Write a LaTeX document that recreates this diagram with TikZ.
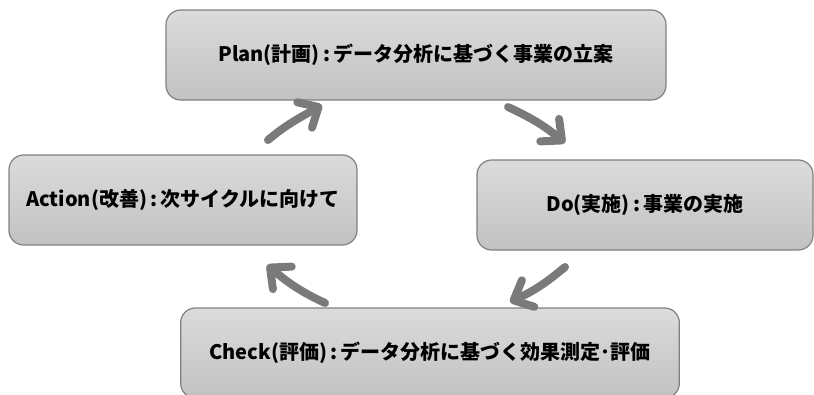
\documentclass[tikz,border=0pt]{standalone}
\usepackage{fontspec}
\setmainfont{Noto Sans CJK JP}
\usetikzlibrary{arrows.meta}

\begin{document}
\begin{tikzpicture}[
    x=0.75pt, y=0.75pt,
    block/.style={rectangle, rounded corners=11pt, draw=black!50, line width=0.9pt,
        top color=black!14, bottom color=black!24, minimum height=67.5pt,
        align=center, font=\fontsize{15pt}{18pt}\selectfont\bfseries},
    cycle/.style={draw=black!52, line width=6pt, line cap=round,
        -{Straight Barb[length=12pt, width=22pt, round]}}
]
\useasboundingbox (0,0) rectangle (814,394);
% Nodes
\node [block, minimum width=375pt] (plan) at (416,339) {Plan(計画)\,:\,データ分析に基づく事業の立案};
\node [block, minimum width=261pt] (action) at (183,194) {Action(改善)\,:\,次サイクルに向けて};
\node [block, minimum width=252pt] (do) at (645,189) {Do(実施)\,:\,事業の実施};
\node [block, minimum width=374pt] (check) at (430,41) {Check(評価)\,:\,データ分析に基づく効果測定･評価};

% Arrow ends
\coordinate (act-out) at (268,254);
\coordinate (plan-in) at (322,289);
\coordinate (plan-out) at (508,287);
\coordinate (do-in) at (565,251);
\coordinate (do-out) at (565,127);
\coordinate (check-in) at (510,92);
\coordinate (check-out) at (325,91);
\coordinate (act-in) at (267,129);

% Arrows
\draw [cycle] (act-out) to[out=40, in=210] (plan-in);
\draw [cycle] (plan-out) to[out=-25, in=140] (do-in);
\draw [cycle] (do-out) to[out=220, in=25] (check-in);
\draw [cycle] (check-out) to[out=155, in=-40] (act-in);
\end{tikzpicture}
\end{document}
